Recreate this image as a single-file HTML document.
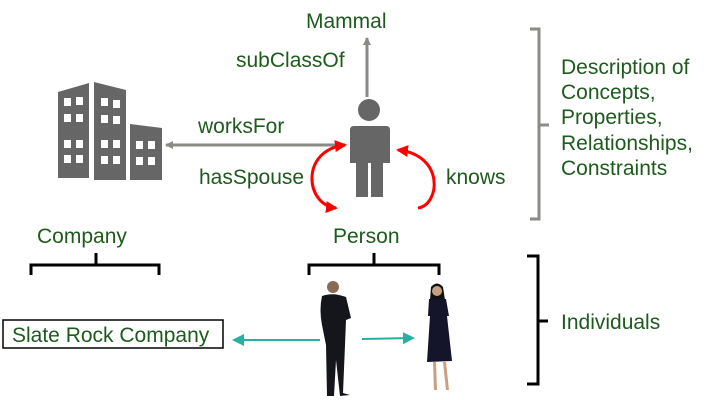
<!DOCTYPE html>
<html><head><style>
html,body{margin:0;padding:0;background:#fff;}
svg{display:block;}
text{font-family:"Liberation Sans",sans-serif;fill:#1e5a1e;font-size:21px;}
</style></head><body>
<svg width="712" height="400" viewBox="0 0 712 400" xmlns="http://www.w3.org/2000/svg">
<defs>
<marker id="ag" markerWidth="8" markerHeight="8" refX="7" refY="4" orient="auto" markerUnits="userSpaceOnUse"><path d="M0,0 L8,4 L0,8z" fill="#8c8a84"/></marker>
<marker id="ar" markerWidth="12" markerHeight="12" refX="10" refY="6" orient="auto-start-reverse" markerUnits="userSpaceOnUse"><path d="M0,0 L12,6 L0,12z" fill="#f00"/></marker>
<marker id="at" markerWidth="12" markerHeight="12" refX="10" refY="6" orient="auto" markerUnits="userSpaceOnUse"><path d="M0,0 L12,6 L0,12z" fill="#26b0a0"/></marker>
</defs>
<!-- building -->
<g fill="#666">
<path d="M58,92 L89,83 L89,178 L58,178z"/>
<path d="M94,82 L126,90 L126,180 L94,180z"/>
<path d="M130,124 L162,128 L162,180 L130,180z"/>
</g>
<g fill="#fff">
<rect x="64" y="98" width="7" height="8"/><rect x="76" y="97" width="7" height="8"/>
<rect x="64" y="114" width="7" height="8"/><rect x="76" y="114" width="7" height="8"/>
<rect x="64" y="140" width="7" height="8"/><rect x="76" y="140" width="7" height="8"/>
<rect x="64" y="155" width="7" height="8"/><rect x="76" y="155" width="7" height="8"/>
<rect x="101" y="98" width="7" height="8"/><rect x="113" y="100" width="7" height="8"/>
<rect x="101" y="115" width="7" height="8"/><rect x="113" y="116" width="7" height="8"/>
<rect x="101" y="140" width="7" height="8"/><rect x="113" y="140" width="7" height="8"/>
<rect x="101" y="156" width="7" height="8"/><rect x="113" y="156" width="7" height="8"/>
<rect x="136" y="141" width="7" height="8"/><rect x="148" y="141" width="7" height="8"/>
<rect x="136" y="157" width="7" height="8"/><rect x="148" y="157" width="7" height="8"/>
</g>
<!-- gray arrows -->
<line x1="345" y1="145" x2="166" y2="145" stroke="#8c8a84" stroke-width="3" marker-end="url(#ag)"/>
<line x1="367" y1="97" x2="367" y2="38" stroke="#8c8a84" stroke-width="3" marker-end="url(#ag)"/>
<!-- person icon -->
<g fill="#666">
<circle cx="369" cy="110" r="11"/>
<path d="M354,126 H386 Q390,126 390,130 V163 H383 V197 H371 V163 H368 V197 H356 V163 H350 V130 Q350,126 354,126z"/>
</g>
<!-- red arcs -->
<path d="M345,145 C300,150 305,205 336,208" fill="none" stroke="#f00" stroke-width="3" marker-start="url(#ar)" marker-end="url(#ar)"/>
<path d="M398,150 C445,155 440,205 418,208" fill="none" stroke="#f00" stroke-width="3" marker-start="url(#ar)"/>
<!-- labels -->
<text x="306" y="28">Mammal</text>
<text x="236" y="67">subClassOf</text>
<text x="198" y="133">worksFor</text>
<text x="199" y="184">hasSpouse</text>
<text x="446" y="184">knows</text>
<text x="37" y="243">Company</text>
<text x="333" y="243">Person</text>
<text x="561" y="74">Description of</text>
<text x="561" y="99">Concepts,</text>
<text x="561" y="124">Properties,</text>
<text x="561" y="150">Relationships,</text>
<text x="561" y="175">Constraints</text>
<text x="561" y="329">Individuals</text>
<!-- right brackets -->
<path d="M530,29 H539 V219 H530 M539,125 H549" fill="none" stroke="#8c8a84" stroke-width="3"/>
<path d="M527,256 H538 V384 H527 M538,321 H548" fill="none" stroke="#000" stroke-width="3"/>
<!-- horizontal brackets -->
<path d="M31,275 V265 H159 V275 M96,265 V253" fill="none" stroke="#000" stroke-width="3"/>
<path d="M309,275 V265 H439 V275 M374,265 V253" fill="none" stroke="#000" stroke-width="3"/>
<!-- box -->
<rect x="3" y="320" width="220" height="28" fill="#fff" stroke="#000" stroke-width="1.5"/>
<text x="12" y="342">Slate Rock Company</text>
<!-- teal arrows -->
<line x1="320" y1="340" x2="234" y2="340" stroke="#26b0a0" stroke-width="2" marker-end="url(#at)"/>
<line x1="362" y1="339" x2="413" y2="338" stroke="#26b0a0" stroke-width="2" marker-end="url(#at)"/>
<!-- man -->
<g fill="#15151c">
<circle cx="333" cy="287" r="6" fill="#8a6a55"/>
<path d="M322,296 Q333,292 346,297 L351,318 L346,320 L345,345 L343,393 L350,395 L340,396 L336,360 L334,396 L327,396 L326,345 L322,325 Q319,310 322,296z"/>
</g>
<!-- woman -->
<g>
<path d="M431,287 Q437,280 443,287 L445,300 L430,300z" fill="#111"/>
<circle cx="437" cy="291" r="5" fill="#c8a080"/>
<path d="M429,299 L446,299 L449,316 L447,316 L452,361 L427,362 L430,316 L428,316z" fill="#14142a"/>
<path d="M433,362 L434,390 L437,390 L436,362z M443,362 L446,390 L449,390 L446,362z" fill="#c8a080"/>
</g>
</svg>
</body></html>
